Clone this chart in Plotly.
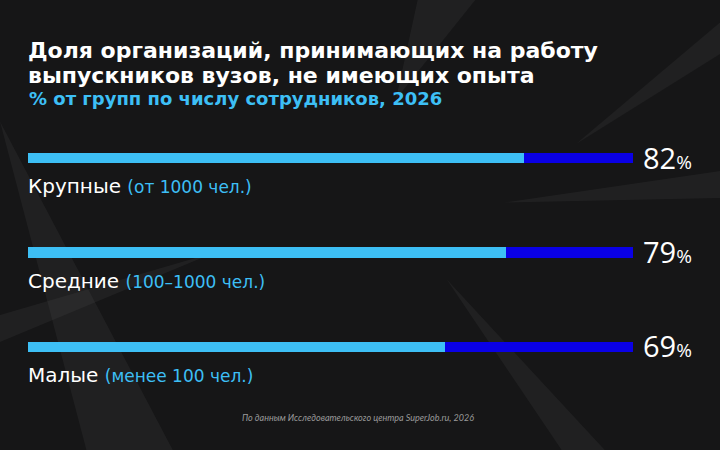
import plotly.graph_objects as go

categories = ["Крупные", "Средние", "Малые"]
size_notes = ["(от 1000 чел.)", "(100–1000 чел.)", "(менее 100 чел.)"]
values = [82, 79, 69]
total = 100

title_lines = ["Доля организаций, принимающих на работу",
               "выпускников вузов, не имеющих опыта"]
subtitle = "% от групп по числу сотрудников, 2026"
source = "По данным Исследовательского центра SuperJob.ru, 2026"

LIGHT = "#3DBFF5"
DARK = "#0A00E6"
BG = "#161617"

W, H = 720, 450
ML, MR, MT, MB = 28, 87, 111, 56

rest = [total - v for v in values]

fig = go.Figure()
fig.add_trace(go.Bar(
    y=categories, x=values, orientation="h",
    marker=dict(color=LIGHT, line=dict(width=0)),
    width=0.11, hoverinfo="skip",
))
fig.add_trace(go.Bar(
    y=categories, x=rest, orientation="h",
    marker=dict(color=DARK, line=dict(width=0)),
    width=0.11, hoverinfo="skip",
))

# labels under bars and values at right end
for cat, note, v in zip(categories, size_notes, values):
    fig.add_annotation(
        x=0, y=cat, xref="x", yref="y", xanchor="left", yanchor="middle",
        xshift=-2, yshift=-28, showarrow=False,
        text=f"{cat} <span style='font-size:17px;color:{LIGHT}'>{note}</span>",
        font=dict(family="DejaVu Sans", size=20, color="white"),
    )
    fig.add_annotation(
        x=total, y=cat, xref="x", yref="y", xanchor="left", yanchor="middle",
        xshift=8, yshift=1, showarrow=False,
        text=f"{v}<span style='font-size:19px'>%</span>",
        font=dict(family="Open Sans", size=29, color="white"),
    )


def px(x, y):
    return (x - ML) / (W - ML - MR), 1 - (y - MT) / (H - MT - MB)


for line, y in zip(title_lines, [50, 75]):
    tx, ty = px(26, y)
    fig.add_annotation(
        x=tx, y=ty, xref="paper", yref="paper", showarrow=False,
        text=line,
        font=dict(family="DejaVu Sans", size=22, color="white", weight="bold"),
        align="left", xanchor="left", yanchor="middle",
    )
sx, sy = px(27, 99)
fig.add_annotation(
    x=sx, y=sy, xref="paper", yref="paper", showarrow=False,
    text=subtitle,
    font=dict(family="DejaVu Sans", size=18, color=LIGHT, weight="bold"),
    align="left", xanchor="left", yanchor="middle",
)
cx, cy = px(358, 417)
fig.add_annotation(
    x=cx, y=cy, xref="paper", yref="paper", showarrow=False,
    text=f"<i>{source}</i>",
    font=dict(family="Lato", size=9, color="#9A9A9A"),
    xanchor="center", yanchor="middle",
)

# faint decorative streaks in the background (page fractions)
streaks = [
    "M 0.00 0.27 L 0.24 1.00 L 0.12 1.00 Z",
    "M 0.58 0.00 L 0.66 0.00 L 0.55 0.22 Z",
    "M 1.00 0.38 L 0.70 0.45 L 1.00 0.44 Z",
    "M 1.00 0.05 L 0.80 0.32 L 1.00 0.12 Z",
    "M 0.78 1.00 L 0.62 0.62 L 0.84 1.00 Z",
    "M 0.00 0.70 L 0.30 0.56 L 0.00 0.76 Z",
]
for p in streaks:
    parts = p.split()
    out = []
    i = 0
    while i < len(parts):
        if parts[i] in ("M", "L"):
            x, y = px(float(parts[i + 1]) * W, float(parts[i + 2]) * H)
            out += [parts[i], f"{x:.4f}", f"{y:.4f}"]
            i += 3
        else:
            out.append(parts[i])
            i += 1
    fig.add_shape(type="path", path=" ".join(out), xref="paper", yref="paper",
                  line=dict(width=0), fillcolor="rgba(255,255,255,0.045)",
                  layer="below")

fig.update_layout(
    width=W, height=H,
    barmode="stack",
    showlegend=False,
    paper_bgcolor=BG, plot_bgcolor="rgba(0,0,0,0)",
    margin=dict(l=ML, r=MR, t=MT, b=MB),
    xaxis=dict(range=[0, total], visible=False, fixedrange=True),
    yaxis=dict(categoryorder="array", categoryarray=categories,
               autorange="reversed", visible=False, fixedrange=True),
)

fig.write_html("out.html", config={"displayModeBar": False},
               post_script="document.body.style.margin='0';")
